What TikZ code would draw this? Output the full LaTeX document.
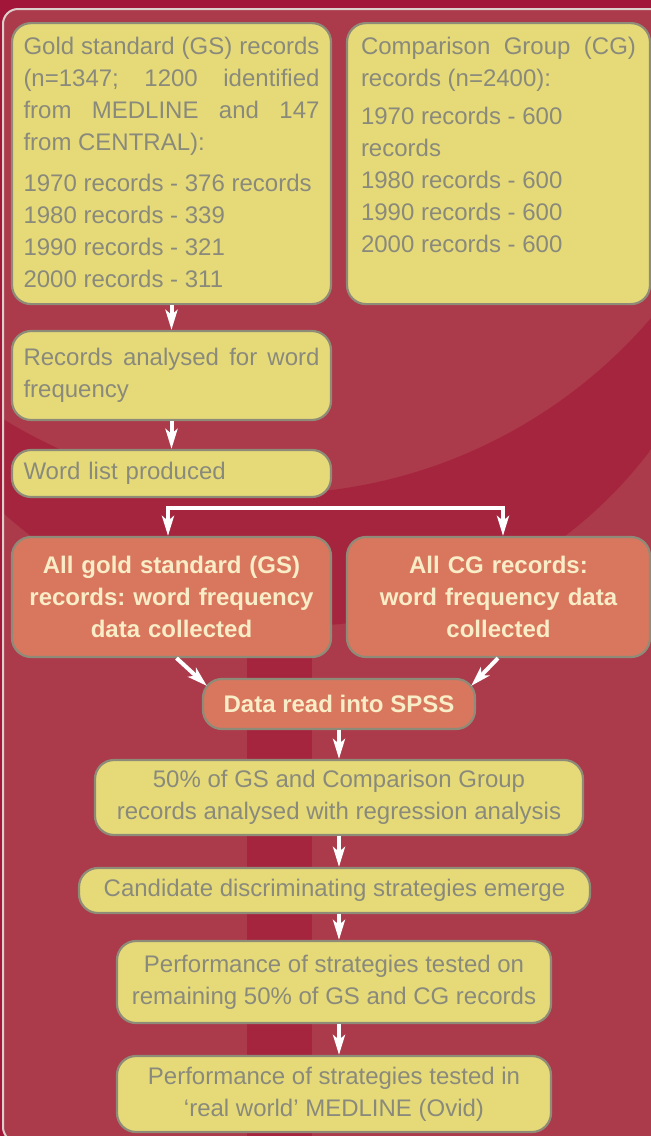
\documentclass[tikz,border=0pt]{standalone}
\usepackage{fontspec}
\setmainfont{Liberation Sans}
\usetikzlibrary{arrows.meta}
\definecolor{bgred}{HTML}{A2163A}
\definecolor{panelred}{HTML}{AB3A4A}
\definecolor{bandred}{HTML}{A5253F}
\definecolor{panelline}{HTML}{DDD0CC}
\definecolor{boxyellow}{HTML}{E6DA78}
\definecolor{boxline}{HTML}{8E8C78}
\definecolor{textgray}{HTML}{8A8A7C}
\definecolor{boxorange}{HTML}{D8775E}
\definecolor{textcream}{HTML}{F9EDC7}
\frenchspacing

\begin{document}
\begin{tikzpicture}[x=1pt,y=-1pt,font=\fontsize{24}{32}\selectfont,
  ybox/.style={draw=boxline,line width=2.2pt,fill=boxyellow,rounded corners=19pt,text=textgray,inner xsep=11.5pt,inner ysep=0pt},
  obox/.style={ybox,fill=boxorange,text=textcream,font=\fontsize{24}{32}\selectfont\bfseries,align=center},
  arr/.style={white,line width=4pt,-{Stealth[length=20pt,width=12pt,inset=5pt]}}]
  \useasboundingbox (0,0) rectangle (651,1136);
  \fill[bgred] (0,0) rectangle (651,1136);
  \begin{scope}
    \clip[rounded corners=15pt] (3,9) rectangle (690,1142);
    \fill[panelred] (0,0) rectangle (651,1136);
    \begin{scope}
      \clip (298,185) circle[radius=441pt];
      \fill[bandred,even odd rule] (0,0) rectangle (651,1136) (268,-11) circle[radius=505pt];
    \end{scope}
    \fill[bandred] (247,640) rectangle (312,1136);
  \end{scope}
  \draw[panelline,line width=2pt,rounded corners=15pt] (3,9) rectangle (690,1142);

  \node[ybox,anchor=north,text width=296pt,align=justify,inner ysep=13pt,text height=18pt,text depth=237pt] (gs) at (171.5,22) {Gold standard (GS) records\linebreak (n=1347; 1200 identified\linebreak from MEDLINE and 147\linebreak from CENTRAL):\\[9pt]1970 records - 376 records\\1980 records - 339\\1990 records - 321\\2000 records - 311};
  \node[ybox,anchor=north,text width=275pt,inner xsep=14pt,align=justify,inner ysep=13pt,text height=18pt,text depth=237pt] (cg) at (498.5,22) {Comparison Group (CG)\linebreak records (n=2400):\\[6pt]1970 records - 600\\records\\1980 records - 600\\1990 records - 600\\2000 records - 600};
  \node[ybox,text width=296pt,align=justify,minimum height=89pt] (rec) at (171.5,375.5) {Records analysed for word\linebreak frequency};
  \node[ybox,text width=296pt,align=left,minimum height=47pt] (wl) at (171.5,473.5) {Word list produced};

  \node[obox,text width=296pt,minimum height=120pt] (allgs) at (171.5,597) {All gold standard (GS)\\records: word frequency\\data collected};
  \node[obox,text width=275pt,inner xsep=14pt,minimum height=120pt] (allcg) at (498.5,597) {All CG records:\\word frequency data\\collected};
  \node[obox,minimum width=272pt,minimum height=50pt] (spss) at (339,704) {Data read into SPSS};

  \node[ybox,align=center,minimum width=488pt,minimum height=75pt] (half) at (339,797.5) {50\% of GS and Comparison Group\\records analysed with regression analysis};
  \node[ybox,minimum width=511pt,minimum height=45pt] (cand) at (334.5,890.5) {Candidate discriminating strategies emerge};
  \node[ybox,align=center,minimum width=434pt,minimum height=82pt] (perf1) at (334,982) {Performance of strategies tested on\\remaining 50\% of GS and CG records};
  \node[ybox,align=center,minimum width=434pt,minimum height=76pt] (perf2) at (334,1094) {Performance of strategies tested in\\‘real world’ MEDLINE (Ovid)};

  \coordinate (split) at (335,508);
  \draw[arr] (gs) -- (rec);
  \draw[arr] (rec) -- (wl);
  \draw[arr] (split) -| ([xshift=-3.5pt]allgs.north);
  \draw[arr] (split) -| ([xshift=4.5pt]allcg.north);
  \draw[arr] ([xshift=5pt]allgs.south) -- ([xshift=5pt,yshift=-8pt]spss.north west);
  \draw[arr] ([xshift=-0.5pt]allcg.south) -- ([xshift=-5pt,yshift=-8pt]spss.north east);
  \draw[arr] (spss.south) -- (spss.south |- half.north);
  \draw[arr] (half.south) -- (half.south |- cand.north);
  \draw[arr] (half.south |- cand.south) -- (half.south |- perf1.north);
  \draw[arr] (half.south |- perf1.south) -- (half.south |- perf2.north);
\end{tikzpicture}
\end{document}
